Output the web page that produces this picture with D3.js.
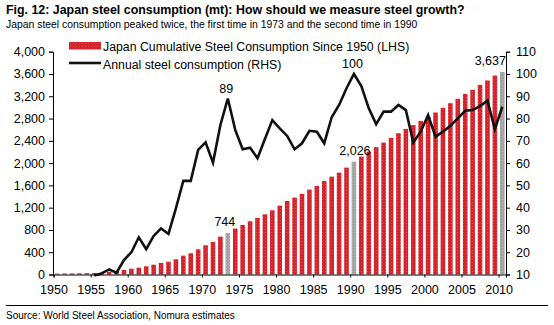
<!DOCTYPE html>
<html>
<head>
<meta charset="utf-8">
<script src="https://cdn.jsdelivr.net/npm/d3@7"></script>
<style>
  body { margin: 0; background: #fff; }
  svg { display: block; font-family: Arial, "Liberation Sans", sans-serif; }
</style>
</head>
<body>
<div id="chart"></div>
<script>
const width = 554;
const height = 325;

// x runs from the left edge of 1950 to the right edge of 2010
const plot = { left: 53.5, right: 506, top: 51.7, bottom: 274.5 };

const years = [1950, 1951, 1952, 1953, 1954, 1955, 1956, 1957, 1958, 1959,
  1960, 1961, 1962, 1963, 1964, 1965, 1966, 1967, 1968, 1969,
  1970, 1971, 1972, 1973, 1974, 1975, 1976, 1977, 1978, 1979,
  1980, 1981, 1982, 1983, 1984, 1985, 1986, 1987, 1988, 1989,
  1990, 1991, 1992, 1993, 1994, 1995, 1996, 1997, 1998, 1999,
  2000, 2001, 2002, 2003, 2004, 2005, 2006, 2007, 2008, 2009, 2010];

// cumulative consumption since 1950, mt (LHS)
const cumulative = [15, 18, 20, 22, 25, 28, 33, 50, 62, 81,
  104, 122, 147, 176, 207, 230, 273, 338, 381, 453,
  524, 584, 679, 744, 825, 889, 955, 1015, 1081, 1153,
  1236, 1320, 1380, 1446, 1524, 1590, 1680, 1757, 1829, 1919,
  2026, 2117, 2207, 2286, 2368, 2453, 2537, 2614, 2681, 2758,
  2830, 2908, 2992, 3076, 3154, 3243, 3315, 3405, 3483, 3572, 3637];

// annual consumption, mt (RHS)
const annual = [null, null, null, null, null, 9.5, 10.5, 12.3, 10.8, 16.5,
  20, 26.7, 21.4, 27.3, 30.7, 28.2, 39.7, 52, 52, 65.9,
  69.3, 60.2, 77.1, 89, 74.9, 66.2, 66.9, 62.2, 70.8, 79.3,
  75.6, 72.2, 66.2, 68.9, 74.5, 74.1, 68.9, 80.6, 86.1, 93.6,
  100, 94.6, 84.6, 77.5, 83.1, 83.1, 86.1, 83.8, 69.2, 74.1,
  81.6, 71.8, 74.1, 76.7, 80.1, 83.5, 83.8, 85.6, 88, 75.2, 85.3];

const highlightYears = [1973, 1990, 2010];
const peakYears = [1973, 1990];

const leftTicks = [0, 400, 800, 1200, 1600, 2000, 2400, 2800, 3200, 3600, 4000];
const rightTicks = [10, 20, 30, 40, 50, 60, 70, 80, 90, 100, 110];
const yearTicks = [1950, 1955, 1960, 1965, 1970, 1975, 1980, 1985, 1990, 1995, 2000, 2005, 2010];

const data = years.map((y, i) => ({ year: y, cum: cumulative[i], annual: annual[i] }));

const svg = d3.select('#chart')
  .append('svg')
  .attr('width', width)
  .attr('height', height);

svg.append('rect').attr('width', width).attr('height', height).attr('fill', '#fff');

// dithered fills for the bars
const defs = svg.append('defs');
function dither(id, base, dot) {
  const p = defs.append('pattern')
    .attr('id', id)
    .attr('patternUnits', 'userSpaceOnUse')
    .attr('width', 3).attr('height', 3);
  p.append('rect').attr('width', 3).attr('height', 3).attr('fill', base);
  p.append('rect').attr('x', 1).attr('y', 1).attr('width', 1).attr('height', 1).attr('fill', dot);
}
dither('redFill', '#d5232b', '#dc4a50');
dither('greyFill', '#a3a3a3', '#bababa');

const x = d3.scaleLinear()
  .domain([1950, 2011])
  .range([plot.left, plot.right]);

const yLeft = d3.scaleLinear()
  .domain([0, 4000])
  .range([plot.bottom, plot.top]);

const yRight = d3.scaleLinear()
  .domain([10, 110])
  .range([plot.bottom, plot.top]);

const step = x(1951) - x(1950);
const barW = step * 0.62;

// bars
svg.append('g')
  .selectAll('rect')
  .data(data)
  .join('rect')
  .attr('x', d => x(d.year) + (step - barW) / 2)
  .attr('y', d => yLeft(d.cum))
  .attr('width', barW)
  .attr('height', d => yLeft(0) - yLeft(d.cum))
  .attr('fill', d => highlightYears.includes(d.year) ? 'url(#greyFill)' : 'url(#redFill)');

// annual line
const line = d3.line()
  .defined(d => d.annual !== null)
  .x(d => x(d.year + 0.5))
  .y(d => yRight(d.annual));

svg.append('path')
  .datum(data)
  .attr('d', line)
  .attr('fill', 'none')
  .attr('stroke', '#111')
  .attr('stroke-width', 2.6)
  .attr('stroke-linejoin', 'miter');

// axes
const axisFont = g => g
  .call(g => g.selectAll('text').attr('font-size', 12.5).attr('fill', '#000').attr('font-family', 'Arial, "Liberation Sans", sans-serif'))
  .call(g => g.selectAll('line, path').attr('stroke', '#000'));

svg.append('g')
  .attr('transform', `translate(${plot.left - 0.5},0)`)
  .call(d3.axisLeft(yLeft).tickValues(leftTicks).tickFormat(d3.format(',')).tickSizeOuter(0).tickSize(4).tickPadding(4))
  .call(axisFont);

svg.append('g')
  .attr('transform', `translate(${plot.right},0)`)
  .call(d3.axisRight(yRight).tickValues(rightTicks).tickSizeOuter(0).tickSize(4).tickPadding(6))
  .call(axisFont);

svg.append('g')
  .attr('transform', `translate(0,${plot.bottom})`)
  .call(d3.axisBottom(x).tickValues(yearTicks).tickFormat(d3.format('d')).tickSizeOuter(0).tickSize(3).tickPadding(8))
  .call(axisFont);

// value labels
const valueLabel = svg.append('g')
  .attr('font-size', 12.5)
  .attr('fill', '#000')
  .attr('text-anchor', 'middle');

const barShift = { 1973: -3, 1990: 1, 2010: -12 };
valueLabel.selectAll('text.bar')
  .data(data.filter(d => highlightYears.includes(d.year)))
  .join('text')
  .attr('class', 'bar')
  .attr('x', d => x(d.year + 0.5) + barShift[d.year])
  .attr('y', d => yLeft(d.cum) - 7)
  .text(d => d3.format(',')(d.cum));

valueLabel.selectAll('text.peak')
  .data(data.filter(d => peakYears.includes(d.year)))
  .join('text')
  .attr('class', 'peak')
  .attr('x', d => x(d.year + 0.5) - 1.5)
  .attr('y', d => yRight(d.annual) - 5.5)
  .text(d => d3.format('d')(d.annual));

// legend
const legend = svg.append('g').attr('font-size', 12.3).attr('fill', '#000');
legend.append('rect')
  .attr('x', 69).attr('y', 42).attr('width', 32).attr('height', 7.5)
  .attr('fill', 'url(#redFill)');
legend.append('text').attr('x', 103).attr('y', 50.5)
  .text('Japan Cumulative Steel Consumption Since 1950 (LHS)');
legend.append('line')
  .attr('x1', 69).attr('x2', 101).attr('y1', 63).attr('y2', 63)
  .attr('stroke', '#111').attr('stroke-width', 2.6);
legend.append('text').attr('x', 103).attr('y', 68.5)
  .text('Annual steel consumption (RHS)');

// titles and source
svg.append('text')
  .attr('x', 6).attr('y', 14)
  .attr('font-size', 12.4).attr('font-weight', 'bold').attr('fill', '#000')
  .text('Fig. 12:  Japan steel consumption (mt): How should we measure steel growth?');

svg.append('text')
  .attr('x', 6).attr('y', 28)
  .attr('font-size', 10.4).attr('fill', '#000')
  .text('Japan steel consumption peaked twice, the first time in 1973 and the second time in 1990');

svg.append('line')
  .attr('x1', 6).attr('x2', 548).attr('y1', 305.5).attr('y2', 305.5)
  .attr('stroke', '#000').attr('stroke-width', 1);

svg.append('text')
  .attr('x', 6).attr('y', 319)
  .attr('font-size', 10).attr('fill', '#000')
  .text('Source: World Steel Association, Nomura estimates');
</script>
</body>
</html>
